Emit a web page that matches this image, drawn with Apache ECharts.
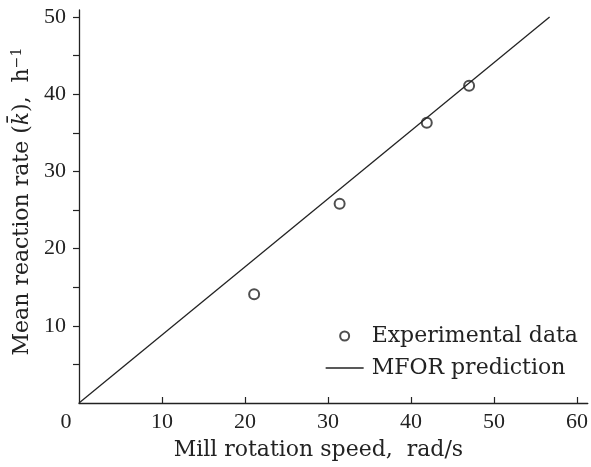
<!DOCTYPE html>
<html><head><meta charset="utf-8">
<script src="https://cdn.jsdelivr.net/npm/echarts@6/dist/echarts.min.js"></script>
<style>html,body{margin:0;padding:0;background:#fff}#c{width:591px;height:467px}</style>
</head><body><div id="c"></div>
<script>
const expX = [21.1, 31.4, 41.9, 47.0];
const expY = [14.1, 25.8, 36.3, 41.1];
const predX = [0, 56.7];
const predY = [0, 50];
const xTickValues = [10, 20, 30, 40, 50, 60];
const xLabelValues = [0, 10, 20, 30, 40, 50, 60];
const yTickValues = [5, 10, 15, 20, 25, 30, 35, 40, 45, 50];
const yLabelValues = [10, 20, 30, 40, 50];

const ink = '#222';
const font = 'DejaVu Serif';
const numFont = 'Liberation Serif';
const chart = echarts.init(document.getElementById('c'), null, {renderer: 'canvas'});
chart.setOption({
  animation: false,
  backgroundColor: '#fff',
  textStyle: {fontFamily: font, color: ink},
  grid: {left: 79, right: 3, top: 10, bottom: 64},
  xAxis: {
    type: 'value', min: 0, max: 61.3,
    splitLine: {show: false},
    axisLine: {lineStyle: {color: ink, width: 1.3}},
    axisTick: {inside: true, length: 6, lineStyle: {color: ink, width: 1.2}, customValues: xTickValues},
    axisLabel: {
      customValues: xLabelValues, margin: 8, fontSize: 22, fontFamily: numFont, color: ink,
      formatter: v => v === 0 ? '{z|0}' : String(v),
      rich: {z: {fontSize: 22, fontFamily: numFont, color: ink, padding: [0, 26, 0, 0]}}
    },
    name: 'Mill rotation speed,  rad/s', nameLocation: 'middle', nameGap: 36,
    nameTextStyle: {fontSize: 22, fontFamily: font, color: ink, padding: [0, 30, 0, 0]}
  },
  yAxis: {
    type: 'value', min: 0, max: 50.9,
    splitLine: {show: false},
    axisLine: {lineStyle: {color: ink, width: 1.3}},
    axisTick: {inside: false, length: 6, lineStyle: {color: ink, width: 1.2}, customValues: yTickValues},
    axisLabel: {customValues: yLabelValues, margin: 13, fontSize: 22, fontFamily: numFont, color: ink},
    name: '{t|Mean reaction rate (}{k|k̄}{t|),  h}{s|−1}', nameLocation: 'middle', nameGap: 44,
    nameTextStyle: {
      fontSize: 22, fontFamily: font, color: ink, padding: [0, 0, 0, 10],
      rich: {
        t: {fontSize: 22, fontFamily: font, color: ink},
        k: {fontSize: 22, fontFamily: font, fontStyle: 'italic', color: ink},
        s: {fontSize: 14, fontFamily: font, color: ink, verticalAlign: 'top', padding: [0, 0, 10, 0]}
      }
    }
  },
  legend: {
    orient: 'vertical', left: 320, top: 319, itemWidth: 38, itemHeight: 9, itemGap: 8,
    textStyle: {fontSize: 22, lineHeight: 24, fontFamily: font, color: ink, padding: [0, 0, 0, 3]},
    data: [
      {name: 'Experimental data', icon: 'emptyCircle', itemStyle: {color: ink, borderColor: ink, borderWidth: 1.5}},
      {name: 'MFOR prediction', itemStyle: {color: 'rgba(0,0,0,0)', borderColor: 'rgba(0,0,0,0)', borderWidth: 0},
       lineStyle: {color: ink, width: 1.3}}
    ]
  },
  series: [
    {
      name: 'MFOR prediction', type: 'line', symbol: 'none',
      itemStyle: {color: ink},
      lineStyle: {color: ink, width: 1.3},
      data: predX.map((x, i) => [x, predY[i]])
    },
    {
      name: 'Experimental data', type: 'scatter', symbol: 'emptyCircle', symbolSize: 10,
      itemStyle: {color: ink, borderColor: ink, borderWidth: 1.5},
      data: expX.map((x, i) => [x, expY[i]])
    }
  ]
});
</script></body></html>
